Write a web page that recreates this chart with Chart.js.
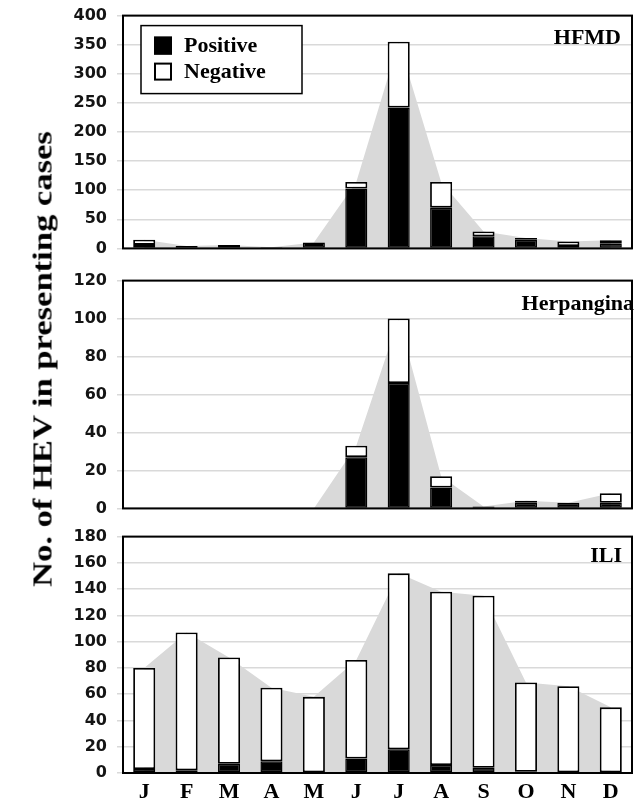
<!DOCTYPE html>
<html><head><meta charset="utf-8">
<script src="https://cdn.jsdelivr.net/npm/chart.js@4/dist/chart.umd.min.js"></script>
<style>
html,body{margin:0;padding:0;background:#fff;}
#wrap{position:relative;width:634px;height:802px;overflow:hidden;background:#fff;}
canvas{position:absolute;left:0;}
#ytitle{position:absolute;left:43px;top:359px;transform:translate(-50%,-50%) rotate(-90deg) scaleX(1.28);font:bold 27px "Liberation Serif","Times New Roman",serif;white-space:nowrap;color:#000;line-height:1;}
</style></head>
<body>
<div id="wrap">
<canvas id="c1" width="634" height="272" style="top:-4px;width:634px;height:272px"></canvas>
<canvas id="c2" width="634" height="267" style="top:261px;width:634px;height:267px"></canvas>
<canvas id="c3" width="634" height="285" style="top:517px;width:634px;height:285px"></canvas>
<div id="ytitle">No. of HEV in presenting cases</div>
</div>
<script>
// ---- data ----
const months = ['J','F','M','A','M','J','J','A','S','O','N','D'];
const seriesLabels = ['Positive','Negative'];
const panelNames = ['HFMD','Herpangina','ILI'];
const panelYMax = [400,120,180];
const panelYStep = [50,20,20];

const hfmdPositive = [6,0,6,2,10,103,242,70,21,15,4,8];
const hfmdNegative = [9,4,0,0,0,11,113,44,8,3,8,6];
const hfmdTotal    = [15,4,6,2,10,114,355,114,29,18,12,14];

const herpPositive = [0,0,0,0,0,27,66,11,1,3,3,3];
const herpNegative = [0,0,0,0,0,6,34,6,0,1,0,5];
const herpTotal    = [0,0,0,0,0,33,100,17,1,4,3,8];

const iliPositive = [3,2,7,9,0,11,18,6,4,1,0,0];
const iliNegative = [77,105,81,56,58,75,134,132,131,68,66,50];
const iliTotal    = [80,107,88,65,58,86,152,138,135,69,66,50];

// ---- plugins ----
const framePlugin = {
  id:'frame',
  afterDatasetsDraw(chart){
    const {ctx, chartArea:a} = chart;
    ctx.save(); ctx.strokeStyle='#000'; ctx.lineWidth=2;
    ctx.strokeRect(a.left, a.top, a.right-a.left, a.bottom-a.top);
    ctx.restore();
  }
};
const panelLabelPlugin = {
  id:'panelLabel',
  afterDraw(chart, args, opts){
    if(!opts || !opts.text) return;
    const {ctx, chartArea:a} = chart;
    ctx.save();
    ctx.font = 'bold 22px "Liberation Serif", serif';
    ctx.fillStyle = '#000'; ctx.textAlign='right'; ctx.textBaseline='alphabetic';
    ctx.fillText(opts.text, a.right + opts.dx, a.top + opts.dy);
    ctx.restore();
  }
};
const boxLegendPlugin = {
  id:'boxLegend',
  afterDraw(chart, args, opts){
    if(!opts || !opts.show) return;
    const {ctx, chartArea:a} = chart;
    const bx = a.left + 18, by = a.top + 10, bw = 161, bh = 68;
    ctx.save();
    ctx.fillStyle='#fff'; ctx.fillRect(bx,by,bw,bh);
    ctx.strokeStyle='#000'; ctx.lineWidth=1.5; ctx.strokeRect(bx,by,bw,bh);
    const bars = chart.data.datasets.filter(d=>d.type==='bar');
    bars.forEach((d,i)=>{
      const sy = by + 11 + i*26;
      ctx.fillStyle = d.backgroundColor; ctx.fillRect(bx+13, sy, 18, 18);
      ctx.strokeStyle='#000'; ctx.lineWidth=2; ctx.strokeRect(bx+14, sy+1, 16, 16);
      ctx.fillStyle='#000'; ctx.font='bold 22px "Liberation Serif", serif';
      ctx.textAlign='left'; ctx.textBaseline='middle';
      ctx.fillText(d.label, bx+43, sy+10);
    });
    ctx.restore();
  }
};

function makeChart(id, idx, pos, neg, tot, opt){
  const isLast = idx === 2;
  return new Chart(document.getElementById(id), {
    data:{
      labels: months,
      datasets:[
        {type:'bar', label:seriesLabels[0], data:pos, backgroundColor:'#000', borderColor:'#000', borderWidth:1.5, borderSkipped:false, order:1, stack:'s', barPercentage:0.52, categoryPercentage:1},
        {type:'bar', label:seriesLabels[1], data:neg, backgroundColor:'#fff', borderColor:'#000', borderWidth:1.8, borderSkipped:false, order:1, stack:'s', barPercentage:0.52, categoryPercentage:1},
        {type:'line', label:'total', data:tot, borderWidth:0, borderColor:'rgba(0,0,0,0)', pointRadius:0, fill:'origin', backgroundColor:'#d9d9d9', tension:0, order:10, stack:'area'}
      ]
    },
    options:{
      responsive:false, animation:false, devicePixelRatio:1,
      layout:{padding:{left:0, right:2, top:0, bottom:0}},
      plugins:{
        legend:{display:false}, tooltip:{enabled:false},
        panelLabel:{text:panelNames[idx], dx:opt.labelDx, dy:opt.labelDy},
        boxLegend:{show: idx===0}
      },
      scales:{
        x:{
          display: isLast, stacked:true, offset:true,
          grid:{display:false, drawTicks:false}, border:{display:false},
          ticks:{font:{family:'"Liberation Serif", serif', weight:'bold', size:22}, color:'#000', padding:6, maxRotation:0, autoSkip:false},
          afterFit(s){ s.height = isLast ? 29 : 0; }
        },
        y:{
          stacked:true, min:0, max:panelYMax[idx],
          ticks:{stepSize:panelYStep[idx], font:{family:'"DejaVu Sans", sans-serif', weight:'bold', size:16}, color:'#141414', padding:10},
          grid:{color:'#d9d9d9', lineWidth:1.5, tickLength:6, drawTicks:true},
          border:{display:false},
          afterFit(s){ s.width = 123; }
        }
      }
    },
    plugins:[framePlugin, panelLabelPlugin, boxLegendPlugin]
  });
}

makeChart('c1', 0, hfmdPositive, hfmdNegative, hfmdTotal, {labelDx:-11, labelDy:28});
makeChart('c2', 1, herpPositive, herpNegative, herpTotal, {labelDx:2, labelDy:29});
makeChart('c3', 2, iliPositive, iliNegative, iliTotal, {labelDx:-10, labelDy:25});
</script>
</body></html>
